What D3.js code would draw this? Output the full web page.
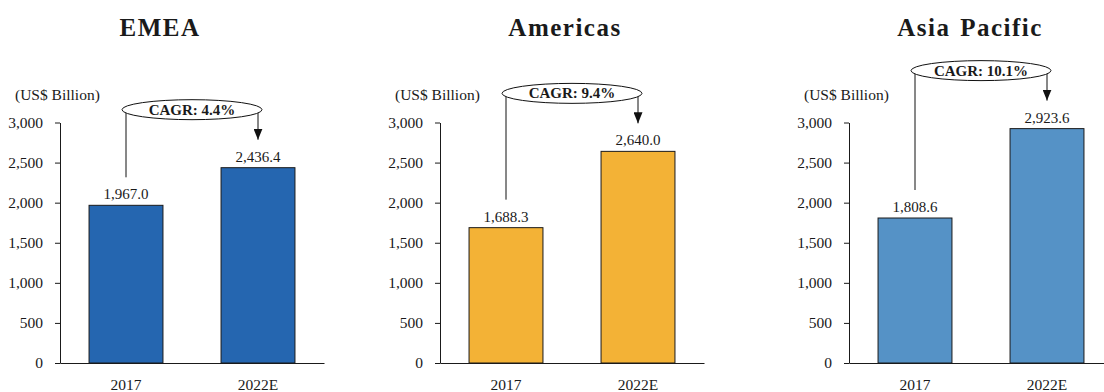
<!DOCTYPE html>
<html>
<head>
<meta charset="utf-8">
<script src="https://cdn.jsdelivr.net/npm/d3@7"></script>
<style>
  body { margin: 0; background: #fff; }
  svg { display: block; font-family: "Liberation Serif", "Times New Roman", serif; }
</style>
</head>
<body>
<script>
// Data
const regions = ["EMEA", "Americas", "Asia Pacific"];
const years = ["2017", "2022E"];
const emea = [1967.0, 2436.4];
const americas = [1688.3, 2640.0];
const asiaPacific = [1808.6, 2923.6];
const cagr = ["4.4%", "9.4%", "10.1%"];
const yTicks = [0, 500, 1000, 1500, 2000, 2500, 3000];
const unitLabel = "(US$ Billion)";

// Layout
const width = 1104;
const height = 392;
const panelX = [60, 440, 849];
const titleX = [160, 565, 970];
const panelWidth = 264;
const yTop = 122.5;
const yBottom = 363;
const colors = ["#2566b0", "#f3b236", "#5592c6"];
const values = [emea, americas, asiaPacific];

const svg = d3.select("body").append("svg")
  .attr("width", width)
  .attr("height", height)
  .attr("viewBox", [0, 0, width, height]);

// Arrow head for the CAGR bracket
svg.append("defs").append("marker")
  .attr("id", "arrow")
  .attr("viewBox", "0 0 9 11")
  .attr("refX", 4.5)
  .attr("refY", 11)
  .attr("markerWidth", 9)
  .attr("markerHeight", 11)
  .attr("markerUnits", "userSpaceOnUse")
  .attr("orient", "0")
  .append("path")
  .attr("d", "M0,0 L9,0 L4.5,11 Z")
  .attr("fill", "#111");

const y = d3.scaleLinear().domain([0, 3000]).range([yBottom, yTop]);

regions.forEach((name, i) => {
  const a = panelX[i];
  const x = d3.scaleBand().domain(years)
    .range([a, a + panelWidth])
    .paddingInner(0.44)
    .paddingOuter(0.22);
  const g = svg.append("g");

  // Title
  g.append("text")
    .attr("x", titleX[i])
    .attr("y", 36)
    .attr("text-anchor", "middle")
    .attr("font-size", 25)
    .attr("font-weight", "bold")
    .attr("letter-spacing", 1.5)
    .attr("word-spacing", 2)
    .attr("fill", "#1a1a1a")
    .text(name);

  // Unit label
  g.append("text")
    .attr("x", a - 45)
    .attr("y", 100)
    .attr("font-size", 15.5)
    .attr("fill", "#1a1a1a")
    .text(unitLabel);

  // Bars
  g.selectAll("rect")
    .data(values[i])
    .join("rect")
    .attr("x", (d, j) => x(years[j]))
    .attr("y", d => y(d))
    .attr("width", x.bandwidth())
    .attr("height", d => y(0) - y(d))
    .attr("fill", colors[i])
    .attr("stroke", "#1a1a1a")
    .attr("stroke-width", 1);

  // Value labels
  g.selectAll(".val")
    .data(values[i])
    .join("text")
    .attr("class", "val")
    .attr("x", (d, j) => x(years[j]) + x.bandwidth() / 2)
    .attr("y", d => y(d) - 6)
    .attr("text-anchor", "middle")
    .attr("font-size", 15)
    .attr("fill", "#1a1a1a")
    .text(d => d3.format(",.1f")(d));

  // Y axis
  const yAxis = g.append("g")
    .attr("transform", `translate(${a},0)`)
    .call(d3.axisLeft(y).tickValues(yTicks).tickFormat(d3.format(","))
      .tickSize(5).tickSizeOuter(0).tickPadding(12));
  yAxis.select(".domain").attr("stroke", "#1a1a1a");
  yAxis.selectAll(".tick line").attr("stroke", "#1a1a1a");
  yAxis.selectAll("text")
    .attr("font-size", 15.5)
    .attr("font-family", "Liberation Serif, serif")
    .attr("fill", "#1a1a1a");

  // X axis (baseline)
  const xAxis = g.append("g")
    .attr("transform", `translate(0,${yBottom})`)
    .call(d3.axisBottom(x).tickSize(0).tickSizeOuter(0).tickPadding(16));
  xAxis.select(".domain").attr("stroke", "#1a1a1a");
  xAxis.selectAll("text")
    .attr("font-size", 15.5)
    .attr("font-family", "Liberation Serif, serif")
    .attr("fill", "#1a1a1a");

  // CAGR annotation
  const x1 = x(years[0]) + x.bandwidth() / 2;
  const x2 = x(years[1]) + x.bandwidth() / 2;
  const top1 = y(values[i][0]);
  const top2 = y(values[i][1]);
  const cy = top2 - 58;

  g.append("line")
    .attr("x1", x1).attr("x2", x1)
    .attr("y1", cy).attr("y2", top1 - 28)
    .attr("stroke", "#111");
  g.append("line")
    .attr("x1", x2).attr("x2", x2)
    .attr("y1", cy).attr("y2", top2 - 28)
    .attr("stroke", "#111")
    .attr("marker-end", "url(#arrow)");
  g.append("ellipse")
    .attr("cx", (x1 + x2) / 2)
    .attr("cy", cy)
    .attr("rx", (x2 - x1) / 2 + 4)
    .attr("ry", 10)
    .attr("fill", "#fff")
    .attr("stroke", "#111");
  g.append("text")
    .attr("x", (x1 + x2) / 2)
    .attr("y", cy + 5)
    .attr("text-anchor", "middle")
    .attr("font-size", 15)
    .attr("font-weight", "bold")
    .attr("fill", "#1a1a1a")
    .text(`CAGR: ${cagr[i]}`);
});
</script>
</body>
</html>
